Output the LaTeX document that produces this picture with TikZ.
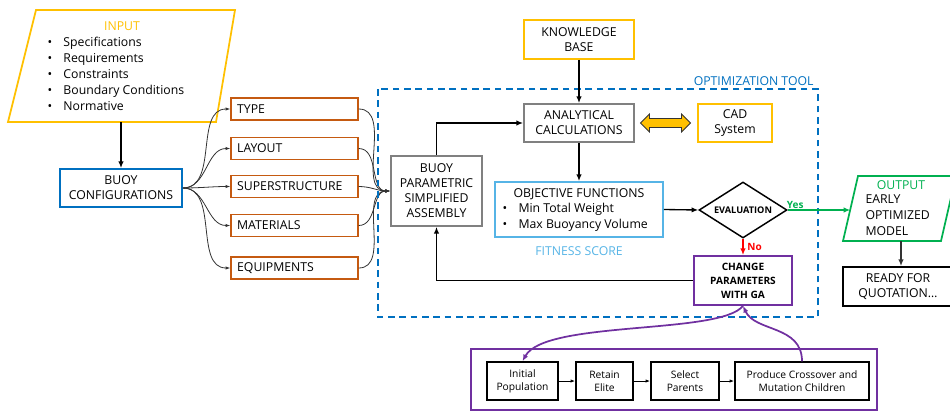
\documentclass[tikz,border=0pt]{standalone}
\usepackage{fontspec}
\setmainfont{Open Sans}
\usetikzlibrary{arrows.meta,shapes.geometric,shapes.arrows}

\definecolor{inyellow}{RGB}{255,192,0}
\definecolor{cfgorange}{RGB}{197,90,17}
\definecolor{buoyblue}{RGB}{0,112,192}
\definecolor{fitblue}{RGB}{86,180,230}
\definecolor{boxgray}{RGB}{128,128,128}
\definecolor{outgreen}{RGB}{0,176,80}
\definecolor{gapurple}{RGB}{112,48,160}

\newcommand{\listdot}{\makebox[12pt][l]{\textbullet}}

\tikzset{every picture/.style={line width=0.75pt}}

\begin{document}
\begin{tikzpicture}[x=0.75pt,y=0.75pt,yscale=-1,xscale=1,
  every node/.style={font=\fontsize{9.2}{11.25}\selectfont, inner sep=0.75pt},
  boxsize/.style 2 args={minimum width=#1*0.75pt, minimum height=#2*0.75pt},
  flowbox/.style={draw=#1, line width=1.3pt, align=center},
  cfgbox/.style={draw=cfgorange, line width=1.3pt, minimum height=16.5pt, text width=86pt, inner xsep=4.5pt, align=left},
  gabox/.style={draw=black, line width=1.1pt, align=center, font=\fontsize{7.7}{10}\selectfont},
  arr/.style={-{Latex[length=5pt,width=4pt]}},
  fanarr/.style={-{Latex[length=3.5pt,width=2.5pt]}, line width=0.6pt, draw=black!80}
]
\clip (0,0) rectangle (950,411);

%Shape: Parallelogram
\draw [draw=inyellow, line width=1.3pt] (36,10) -- (235,10) -- (216,122) -- (8,122) -- cycle ;
\coordinate (inbot) at (121,122);
% Text Node
\node [text=inyellow] (inputtitle) at (122,26) {INPUT};
% Text Node
\node [anchor=north west, align=left, font=\fontsize{9.2}{12}\selectfont] (inputlist) at (46,36) {\listdot Specifications\\ \listdot Requirements\\ \listdot Constraints\\ \listdot Boundary Conditions\\ \listdot Normative};

%Shape: Rectangle
\node [flowbox=buoyblue, boxsize={122}{38}] (config) at (121,188) {BUOY\\CONFIGURATIONS};
\node [cfgbox] (type) at (294.5,109) {TYPE};
\node [cfgbox] (layout) at (294.5,148.5) {LAYOUT};
\node [cfgbox] (superstr) at (294.5,186.5) {SUPERSTRUCTURE};
\node [cfgbox] (materials) at (294.5,225.5) {MATERIALS};
\node [cfgbox] (equip) at (294.5,268) {EQUIPMENTS};
\node [flowbox=boxgray, boxsize={91}{70}] (param) at (436.5,191) {BUOY\\PARAMETRIC\\SIMPLIFIED\\ASSEMBLY};

%Straight Lines
\draw [arr, line width=1.3pt] (inbot) -- (config.north) ;
%Curve Lines
\foreach \b in {type,layout,superstr,materials,equip}{
  \draw [fanarr] (config.east) to[out=0,in=180] (\b.west) ;
  \draw [fanarr] (\b.east) to[out=0,in=180] (param.west) ;
}

%Shape: Rectangle
\draw [draw=buoyblue, line width=1.5pt, dash pattern=on 5pt off 3.5pt] (378,89) rectangle (818,317) ;
% Text Node
\node [text=buoyblue, anchor=base east] (opttool) at (815,85) {OPTIMIZATION TOOL};

\node [flowbox=inyellow, boxsize={110}{39}] (know) at (579,39.5) {KNOWLEDGE\\BASE};
\node [flowbox=boxgray, boxsize={110}{38}] (anal) at (579,123) {ANALYTICAL\\CALCULATIONS};
\node [flowbox=inyellow, boxsize={74}{38}] (cad) at (735,123) {CAD\\System};
\node [double arrow, draw=black!80, fill=inyellow, line width=0.6pt, minimum height=37.5pt, minimum width=13.5pt, double arrow head extend=3pt, inner sep=2.6pt] (dbl) at (665.5,123) {};

\node [draw=fitblue, line width=1.3pt, boxsize={168}{55}] (obj) at (579,209.5) {};
% Text Node
\node (objtitle) at (579,194) {OBJECTIVE FUNCTIONS};
% Text Node
\node [anchor=north west, align=left, font=\fontsize{9.2}{12}\selectfont] (objlist) at (501,202) {\listdot Min Total Weight\\ \listdot Max Buoyancy Volume};
% Text Node
\node [text=fitblue] (fitness) at (579,251) {FITNESS SCORE};

\node [diamond, draw, line width=1.1pt, aspect=1.6, inner sep=0pt, minimum width=66pt, minimum height=42pt, font=\fontsize{6.9}{9}\selectfont\bfseries] (eval) at (743,210) {EVALUATION};
\node [flowbox=gapurple, boxsize={98}{49}, font=\fontsize{7.6}{10.5}\selectfont\bfseries] (change) at (743,280.5) {CHANGE\\PARAMETERS\\WITH GA};

%Straight Lines
\draw [arr, line width=1.1pt] (know.south) -- (anal.north) ;
\draw [arr, line width=1.1pt] (anal.south) -- (obj.north) ;
\draw [arr, line width=1.1pt] (param.north) |- (anal.west) ;
\draw [arr, line width=1pt] (obj.east) -- (eval.west) ;
\draw [arr, line width=1.1pt] (change.west) -| (param.south) ;
\draw [arr, red, line width=1.1pt] (eval.south) -- node [right=2pt, font=\fontsize{7.5}{9}\selectfont\bfseries] (nolab) {No} (change.north) ;

%Shape: Parallelogram
\draw [draw=outgreen, line width=1.3pt] (858,176) -- (956,176) -- (941,241) -- (843,241) -- cycle ;
\coordinate (outleft) at (850.4,210);
\coordinate (outbot) at (901,241);
% Text Node
\node [text=outgreen] (outtitle) at (901,185) {OUTPUT};
% Text Node
\node [anchor=north west, align=left, font=\fontsize{9.2}{12}\selectfont] (outtext) at (864,193) {EARLY\\OPTIMIZED\\MODEL};
\node [flowbox=black, boxsize={110}{39}] (ready) at (898,286.5) {READY FOR\\QUOTATION\ldots};

\draw [arr, outgreen, line width=1.1pt] (eval.east) -- node [above, pos=0.12, font=\fontsize{7.5}{9}\selectfont\bfseries] (yeslab) {Yes} (outleft) ;
\draw [arr, black!80, line width=1pt] (outbot) -- (outbot |- ready.north) ;

%Shape: Rectangle
\draw [draw=gapurple, line width=1.3pt] (471,349) rectangle (877,410) ;
\node [gabox, boxsize={71}{38}] (init) at (522.5,381) {Initial\\Population};
\node [gabox, boxsize={57}{38}] (elite) at (604.5,381) {Retain\\Elite};
\node [gabox, boxsize={68}{38}] (select) at (685,381) {Select\\Parents};
\node [gabox, boxsize={134}{38}] (produce) at (802,381) {Produce Crossover and\\Mutation Children};

\draw [fanarr, black, line width=0.75pt] (init.east) -- (elite.west) ;
\draw [fanarr, black, line width=0.75pt] (elite.east) -- (select.west) ;
\draw [fanarr, black, line width=0.75pt] (select.east) -- (produce.west) ;

%Curve Lines
\draw [arr, gapurple, line width=1.3pt] (change.south) .. controls (720,335) and (545,320) .. (init.north) ;
\draw [arr, gapurple, line width=1.3pt] (produce.north) .. controls (802,325) and (755,332) .. (change.south) ;

\end{tikzpicture}
\end{document}
